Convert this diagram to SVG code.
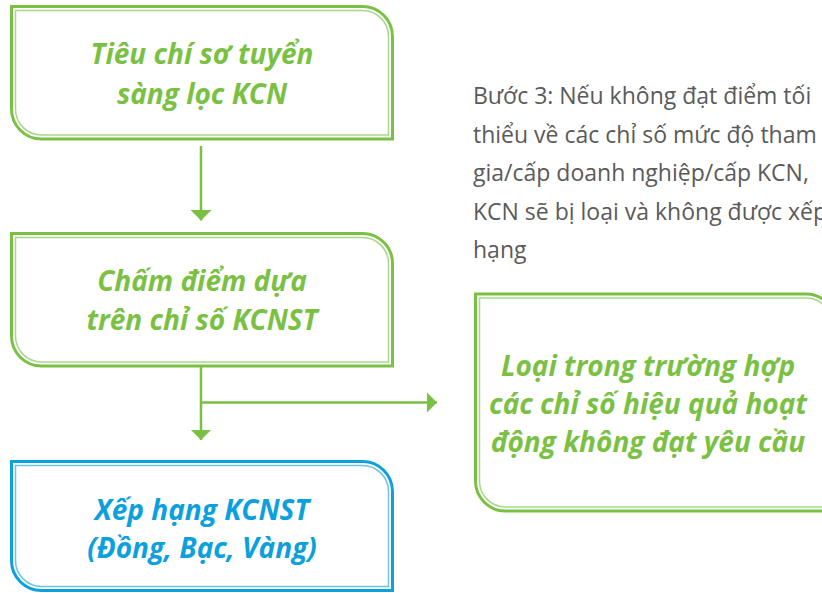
<svg xmlns="http://www.w3.org/2000/svg" width="822" height="593" viewBox="0 0 822 593">
<defs>
<style>
.outer{fill:none;stroke:#7ac143;stroke-width:3}
.inner{fill:none;stroke:#a9d78a;stroke-width:1.5}
.bouter{fill:none;stroke:#0ca0dc;stroke-width:3}
.binner{fill:none;stroke:#6cc3ea;stroke-width:1.5}
.t{font-family:"Open Sans","Noto Sans",sans-serif;font-weight:bold;font-style:italic;font-size:28px;text-anchor:middle}
.g{fill:#7ac143}
.b{fill:#0ca0dc}
.note{font-family:"Open Sans","Noto Sans",sans-serif;font-size:23px;fill:#5a5a5a}
.conn{fill:none;stroke:#7ac143;stroke-width:2.5}
</style>
<marker id="ah" markerUnits="userSpaceOnUse" markerWidth="12" markerHeight="22" refX="10.5" refY="10.5" orient="auto">
<path d="M0,0 L10.5,10.5 L0,21 Z" fill="#7ac143"/>
</marker>
</defs>
<rect width="822" height="593" fill="#ffffff"/>

<g id="node-tieuchi">
<path class="outer" d="M11.5,6.5 H362.5 A30,30 0 0 1 392.5,36.5 V139 H41.5 A30,30 0 0 1 11.5,109 Z"/>
<path class="inner" d="M15.5,10.5 H362.5 A26,26 0 0 1 388.5,36.5 V135 H41.5 A26,26 0 0 1 15.5,109 Z"/>
<text class="t g" x="202" y="64">Tiêu chí sơ tuyển</text>
<text class="t g" x="202" y="104">sàng lọc KCN</text>
</g>

<g id="node-chamdiem">
<path class="outer" d="M11.5,233.5 H362.5 A30,30 0 0 1 392.5,263.5 V366 H41.5 A30,30 0 0 1 11.5,336 Z"/>
<path class="inner" d="M15.5,237.5 H362.5 A26,26 0 0 1 388.5,263.5 V362 H41.5 A26,26 0 0 1 15.5,336 Z"/>
<text class="t g" x="202" y="291">Chấm điểm dựa</text>
<text class="t g" x="202" y="330">trên chỉ số KCNST</text>
</g>

<g id="node-xephang">
<path class="bouter" d="M11.5,461.5 H362.5 A30,30 0 0 1 392.5,491.5 V590.5 H41.5 A30,30 0 0 1 11.5,560.5 Z"/>
<path class="binner" d="M15.5,465.5 H362.5 A26,26 0 0 1 388.5,491.5 V586.5 H41.5 A26,26 0 0 1 15.5,560.5 Z"/>
<text class="t b" x="202" y="520">Xếp hạng KCNST</text>
<text class="t b" x="202" y="558">(Đồng, Bạc, Vàng)</text>
</g>

<g id="node-loai">
<path class="outer" d="M475.5,294 H806 A30,30 0 0 1 836,324 V511 H505.5 A30,30 0 0 1 475.5,481 Z"/>
<path class="inner" d="M479.5,298 H806 A26,26 0 0 1 832,324 V507 H505.5 A26,26 0 0 1 479.5,481 Z"/>
<text class="t g" x="648" y="376">Loại trong trường hợp</text>
<text class="t g" x="648" y="414">các chỉ số hiệu quả hoạt</text>
<text class="t g" x="648" y="452">động không đạt yêu cầu</text>
</g>

<g id="note-buoc3">
<text class="note" x="473" y="104">Bước 3: Nếu không đạt điểm tối</text>
<text class="note" x="473" y="142.5">thiểu về các chỉ số mức độ tham</text>
<text class="note" x="473" y="181">gia/cấp doanh nghiệp/cấp KCN,</text>
<text class="note" x="473" y="219.5">KCN sẽ bị loại và không được xếp</text>
<text class="note" x="473" y="258">hạng</text>
</g>

<g id="connectors">
<path class="conn" d="M201,146 V220.5" marker-end="url(#ah)"/>
<path class="conn" d="M201,367 V440" marker-end="url(#ah)"/>
<path class="conn" d="M201,402.5 H437" marker-end="url(#ah)"/>
</g>
</svg>
